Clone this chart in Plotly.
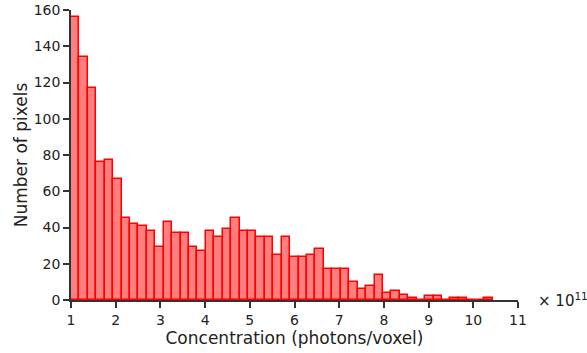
import plotly.graph_objects as go

# histogram counts per bin (50 bins)
counts = [156, 134, 117, 76, 77, 67, 45, 42, 41, 38,
          29, 43, 37, 37, 29, 27, 38, 35, 39, 45,
          38, 38, 35, 35, 25, 35, 24, 24, 25, 28,
          17, 17, 17, 10, 6, 8, 14, 4, 5, 3,
          1, 0, 2, 2, 0, 1, 1, 0, 0, 1]
bin_start = 1.0      # x 10^11 photons/voxel
bin_width = 0.1886
x_ticks = [1, 2, 3, 4, 5, 6, 7, 8, 9, 10, 11]
y_ticks = [0, 20, 40, 60, 80, 100, 120, 140, 160]

centers = [bin_start + bin_width * (i + 0.5) for i in range(len(counts))]

fig = go.Figure(go.Bar(
    x=centers, y=counts, width=bin_width,
    marker=dict(color="rgba(255,0,0,0.5)", line=dict(color="#ff0000", width=1.5)),
))

fnt = dict(family="DejaVu Sans", size=14, color="#222")
fig.update_layout(
    width=587, height=353,
    margin=dict(l=71, r=69, t=10, b=53, autoexpand=False),
    plot_bgcolor="white", paper_bgcolor="white",
    showlegend=False, bargap=0, font=fnt,
)
fig.update_xaxes(
    range=[1, 11], tickvals=x_ticks, ticks="outside", ticklen=6, tickwidth=1.5,
    tickcolor="#333", showline=True, linecolor="#333", linewidth=1.5,
    showgrid=False, zeroline=False, automargin=False,
    title=dict(text="Concentration (photons/voxel)", standoff=4),
)
fig.update_yaxes(
    range=[0, 160], tickvals=y_ticks, ticks="outside", ticklen=6, tickwidth=1.5,
    tickcolor="#333", showline=True, linecolor="#333", linewidth=1.5,
    showgrid=False, zeroline=False, automargin=False,
    title=dict(text="Number of pixels", standoff=2),
)
fig.add_annotation(
    text="× 10<sup>11</sup>", xref="paper", yref="paper", x=1.04, y=0,
    xanchor="left", yanchor="middle", showarrow=False,
    font=dict(family="DejaVu Sans", size=15, color="#222"),
)
# drop the page's default 8px body margin so the figure sits at the corner
fig.write_html("out.html", config={"displayModeBar": False},
               post_script="document.body.style.margin='0';")
